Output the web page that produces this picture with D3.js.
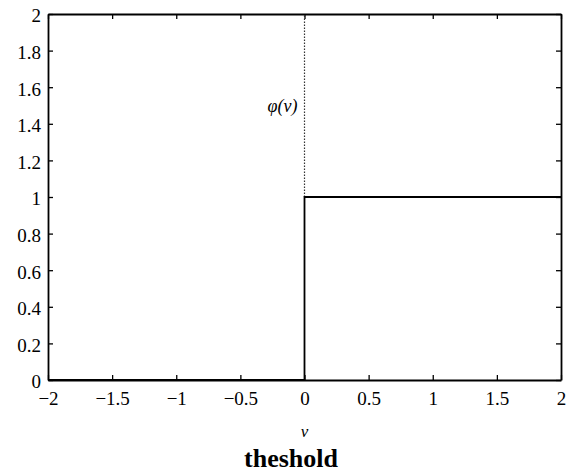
<!DOCTYPE html>
<html>
<head>
<meta charset="utf-8">
<script src="https://cdn.jsdelivr.net/npm/d3@7/dist/d3.min.js"></script>
<style>
  html, body { margin: 0; padding: 0; background: #fff; }
  svg { display: block; }
  text { font-family: "Liberation Serif", "Times New Roman", serif; fill: #000; }
</style>
</head>
<body>
<svg id="chart" width="571" height="475"></svg>
<script>
// Threshold activation: phi(v) = 0 for v < 0, 1 for v >= 0
const stepV = [-2, 0, 0, 2];
const stepPhi = [0, 0, 1, 1];
// Dotted guide along v = 0 above the step
const guideV = [0, 0];
const guidePhi = [1, 2];

const xTicks = [-2, -1.5, -1, -0.5, 0, 0.5, 1, 1.5, 2];
const xTickLabels = ["\u22122", "\u22121.5", "\u22121", "\u22120.5", "0", "0.5", "1", "1.5", "2"];
const yTicks = [0, 0.2, 0.4, 0.6, 0.8, 1, 1.2, 1.4, 1.6, 1.8, 2];
const yTickLabels = ["0", "0.2", "0.4", "0.6", "0.8", "1", "1.2", "1.4", "1.6", "1.8", "2"];

const curveLabel = "\u03c6(v)";
const xLabel = "v";
const title = "theshold";

const svg = d3.select("#chart");
const plotLeft = 48, plotRight = 561, plotTop = 14, plotBottom = 380;

const x = d3.scaleLinear().domain([-2, 2]).range([plotLeft, plotRight]);
const y = d3.scaleLinear().domain([0, 2]).range([plotBottom, plotTop]);

const tickLen = 5;
const serif = "'Liberation Serif', 'Times New Roman', serif";

// Axes with inward ticks on all four sides
const axB = d3.axisBottom(x).tickValues(xTicks).tickSizeInner(-tickLen).tickSizeOuter(0).tickPadding(12)
  .tickFormat((d, i) => xTickLabels[i]);
const axT = d3.axisTop(x).tickValues(xTicks).tickSizeInner(-tickLen).tickSizeOuter(0).tickFormat("");
const axL = d3.axisLeft(y).tickValues(yTicks).tickSizeInner(-tickLen).tickSizeOuter(0).tickPadding(7)
  .tickFormat((d, i) => yTickLabels[i]);
const axR = d3.axisRight(y).tickValues(yTicks).tickSizeInner(-tickLen).tickSizeOuter(0).tickFormat("");

function style(g) {
  g.attr("font-family", serif);
  g.selectAll("path.domain").attr("stroke", "#000").attr("stroke-width", 1.8);
  g.selectAll(".tick line").attr("stroke", "#000").attr("stroke-width", 1.3);
  g.selectAll(".tick text").attr("font-family", serif)
    .attr("font-size", 19).attr("fill", "#000");
}

svg.append("g").attr("transform", `translate(0,${plotBottom})`).call(axB).call(style);
svg.append("g").attr("transform", `translate(0,${plotTop})`).call(axT).call(style);
svg.append("g").attr("transform", `translate(${plotLeft},0)`).call(axL).call(style)
  .selectAll(".tick text").attr("dy", "0.42em");
svg.append("g").attr("transform", `translate(${plotRight},0)`).call(axR).call(style);

const line = d3.line().x(d => x(d[0])).y(d => y(d[1]));

svg.append("path")
  .datum(guideV.map((v, i) => [v, guidePhi[i]]))
  .attr("d", line)
  .attr("fill", "none")
  .attr("stroke", "#333")
  .attr("stroke-width", 1.2)
  .attr("stroke-dasharray", "1.5,1.5");

svg.append("path")
  .datum(stepV.map((v, i) => [v, stepPhi[i]]))
  .attr("d", line)
  .attr("fill", "none")
  .attr("stroke", "#000")
  .attr("stroke-width", 1.8);

svg.append("text")
  .attr("x", x(0) - 7).attr("y", 112)
  .attr("text-anchor", "end")
  .attr("font-family", serif)
  .attr("font-size", 18).attr("font-style", "italic")
  .text(curveLabel);

svg.append("text")
  .attr("x", x(0)).attr("y", 437)
  .attr("text-anchor", "middle")
  .attr("font-family", serif)
  .attr("font-size", 17).attr("font-style", "italic")
  .text(xLabel);

svg.append("text")
  .attr("x", 291).attr("y", 467)
  .attr("text-anchor", "middle")
  .attr("font-family", serif)
  .attr("font-size", 26).attr("font-weight", "bold")
  .text(title);
</script>
</body>
</html>
